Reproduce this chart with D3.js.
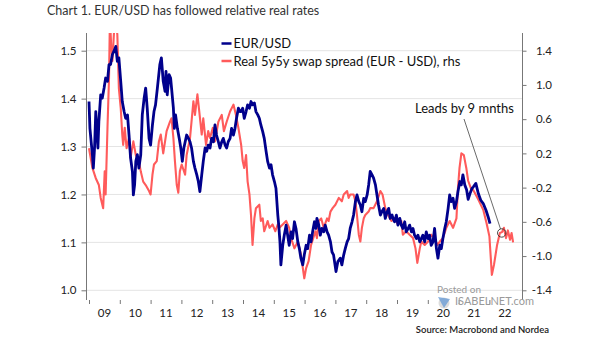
<!DOCTYPE html>
<html>
<head>
<meta charset="utf-8">
<script src="https://cdn.jsdelivr.net/npm/d3@7"></script>
<style>
	body { margin: 0; background: #fff; }
	svg { display: block; font-family: Lato, 'Open Sans', sans-serif; }
</style>
</head>
<body>
<svg id="chart" width="605" height="341"></svg>
<script>
// EUR/USD, left axis  [decimal year, rate]
const eurUsd = [
	[2009.00,1.394],[2009.03,1.338],[2009.06,1.317],[2009.11,1.283],[2009.14,1.255],[2009.18,1.297],[2009.22,1.373],[2009.25,1.338],
	[2009.29,1.297],[2009.32,1.352],[2009.38,1.408],[2009.43,1.401],[2009.49,1.422],[2009.54,1.443],[2009.60,1.436],[2009.65,1.471],
	[2009.70,1.471],[2009.76,1.492],[2009.81,1.499],[2009.87,1.509],[2009.92,1.478],[2009.97,1.485],[2010.03,1.436],[2010.08,1.394],
	[2010.14,1.373],[2010.19,1.359],[2010.25,1.366],[2010.30,1.324],[2010.35,1.276],[2010.41,1.248],[2010.44,1.199],[2010.48,1.220],
	[2010.52,1.269],[2010.57,1.283],[2010.62,1.255],[2010.68,1.283],[2010.73,1.366],[2010.79,1.401],[2010.84,1.422],[2010.89,1.380],
	[2010.95,1.317],[2011.00,1.303],[2011.06,1.345],[2011.11,1.373],[2011.16,1.387],[2011.22,1.422],[2011.30,1.471],[2011.35,1.485],
	[2011.41,1.436],[2011.47,1.415],[2011.50,1.457],[2011.54,1.408],[2011.60,1.450],[2011.65,1.443],[2011.69,1.415],[2011.74,1.380],
	[2011.77,1.338],[2011.81,1.366],[2011.87,1.338],[2011.93,1.317],[2011.98,1.297],[2012.03,1.269],[2012.08,1.297],[2012.17,1.324],
	[2012.23,1.317],[2012.28,1.310],[2012.33,1.297],[2012.39,1.269],[2012.44,1.255],[2012.50,1.241],[2012.55,1.227],[2012.60,1.206],
	[2012.66,1.241],[2012.71,1.269],[2012.77,1.297],[2012.82,1.290],[2012.87,1.303],[2012.93,1.297],[2012.98,1.317],[2013.04,1.310],
	[2013.09,1.345],[2013.14,1.324],[2013.20,1.310],[2013.25,1.297],[2013.31,1.310],[2013.36,1.317],[2013.42,1.303],[2013.47,1.297],
	[2013.52,1.310],[2013.58,1.317],[2013.63,1.338],[2013.69,1.324],[2013.74,1.338],[2013.79,1.359],[2013.85,1.380],[2013.90,1.373],
	[2013.94,1.373],[2013.99,1.380],[2014.04,1.359],[2014.10,1.373],[2014.15,1.387],[2014.21,1.380],[2014.26,1.394],[2014.31,1.387],
	[2014.37,1.391],[2014.42,1.373],[2014.48,1.366],[2014.53,1.359],[2014.58,1.345],[2014.64,1.331],[2014.69,1.317],[2014.75,1.290],
	[2014.80,1.269],[2014.86,1.255],[2014.91,1.262],[2014.96,1.241],[2015.02,1.227],[2015.07,1.213],[2015.13,1.157],[2015.16,1.136],
	[2015.20,1.101],[2015.23,1.053],[2015.29,1.094],[2015.34,1.115],[2015.40,1.136],[2015.45,1.115],[2015.50,1.094],[2015.56,1.122],
	[2015.61,1.108],[2015.67,1.143],[2015.72,1.129],[2015.78,1.101],[2015.83,1.087],[2015.88,1.067],[2015.94,1.053],[2015.99,1.074],
	[2016.05,1.094],[2016.10,1.087],[2016.16,1.115],[2016.21,1.101],[2016.26,1.122],[2016.32,1.143],[2016.37,1.129],[2016.40,1.150],
	[2016.46,1.136],[2016.51,1.115],[2016.56,1.129],[2016.62,1.122],[2016.67,1.136],[2016.73,1.122],[2016.78,1.115],[2016.84,1.101],
	[2016.89,1.080],[2016.94,1.074],[2017.02,1.039],[2017.08,1.060],[2017.16,1.067],[2017.21,1.053],[2017.27,1.074],[2017.32,1.087],
	[2017.38,1.101],[2017.43,1.108],[2017.48,1.129],[2017.54,1.143],[2017.59,1.157],[2017.65,1.185],[2017.70,1.199],[2017.76,1.185],
	[2017.81,1.178],[2017.86,1.164],[2017.92,1.192],[2017.97,1.185],[2018.03,1.199],[2018.08,1.220],[2018.13,1.248],[2018.19,1.241],
	[2018.24,1.234],[2018.30,1.220],[2018.35,1.199],[2018.40,1.178],[2018.46,1.157],[2018.51,1.164],[2018.57,1.171],[2018.62,1.150],
	[2018.68,1.164],[2018.73,1.171],[2018.78,1.150],[2018.84,1.157],[2018.87,1.150],[2018.92,1.143],[2018.98,1.157],[2019.03,1.136],
	[2019.09,1.150],[2019.14,1.136],[2019.19,1.129],[2019.25,1.143],[2019.30,1.122],[2019.36,1.129],[2019.41,1.136],[2019.47,1.122],
	[2019.52,1.129],[2019.57,1.115],[2019.63,1.108],[2019.68,1.115],[2019.74,1.101],[2019.79,1.108],[2019.84,1.115],[2019.90,1.101],
	[2019.95,1.122],[2020.01,1.108],[2020.06,1.115],[2020.11,1.094],[2020.17,1.101],[2020.22,1.129],[2020.28,1.087],[2020.33,1.067],
	[2020.39,1.094],[2020.44,1.087],[2020.49,1.108],[2020.55,1.129],[2020.60,1.143],[2020.66,1.171],[2020.71,1.199],[2020.76,1.185],
	[2020.82,1.192],[2020.87,1.171],[2020.93,1.185],[2020.98,1.206],[2021.04,1.227],[2021.09,1.220],[2021.14,1.241],[2021.20,1.220],
	[2021.26,1.210],[2021.31,1.190],[2021.37,1.202],[2021.43,1.212],[2021.48,1.216],[2021.56,1.223],[2021.64,1.202],[2021.72,1.188],
	[2021.80,1.181],[2021.89,1.167],[2021.96,1.153],[2022.02,1.139]
];

// real 5y5y swap spread (EUR - USD), right axis, shifted 9 months
const swapSpread = [
	[2009.00,0.26],[2009.11,0.03],[2009.22,-0.09],[2009.32,-0.17],[2009.38,-0.32],[2009.46,-0.44],[2009.51,-0.01],[2009.54,-0.28],
	[2009.60,0.50],[2009.65,1.08],[2009.68,1.80],[2009.72,1.45],[2009.76,1.28],[2009.84,1.80],[2009.92,1.59],[2009.97,0.96],
	[2010.03,0.73],[2010.08,0.42],[2010.11,0.30],[2010.16,0.50],[2010.22,0.26],[2010.30,0.38],[2010.35,0.15],[2010.44,0.34],
	[2010.52,0.18],[2010.62,0.11],[2010.68,-0.01],[2010.76,-0.13],[2010.84,-0.17],[2010.95,-0.24],[2011.00,-0.28],[2011.06,-0.05],
	[2011.11,0.07],[2011.20,0.11],[2011.27,0.34],[2011.33,0.42],[2011.41,0.20],[2011.52,0.46],[2011.63,0.57],[2011.68,0.61],
	[2011.74,0.38],[2011.79,0.11],[2011.85,-0.17],[2011.90,-0.26],[2011.95,-0.01],[2012.01,0.07],[2012.12,-0.05],[2012.17,0.18],
	[2012.28,0.38],[2012.39,0.81],[2012.44,0.65],[2012.52,0.89],[2012.58,0.69],[2012.66,0.42],[2012.71,0.61],[2012.80,0.30],
	[2012.87,0.46],[2012.93,0.38],[2013.02,0.50],[2013.09,0.34],[2013.20,0.57],[2013.31,0.65],[2013.38,0.46],[2013.47,0.57],
	[2013.58,0.69],[2013.69,0.77],[2013.77,0.65],[2013.85,0.50],[2013.94,0.30],[2013.99,0.11],[2014.04,0.03],[2014.10,0.18],
	[2014.15,-0.13],[2014.21,-0.28],[2014.26,-0.52],[2014.31,-0.87],[2014.37,-0.56],[2014.42,-0.44],[2014.53,-0.40],[2014.58,-0.59],
	[2014.64,-0.56],[2014.69,-0.71],[2014.80,-0.59],[2014.86,-0.67],[2014.96,-0.63],[2015.05,-0.71],[2015.13,-0.63],[2015.18,-0.67],
	[2015.29,-0.63],[2015.40,-0.59],[2015.50,-0.67],[2015.56,-0.79],[2015.67,-0.91],[2015.78,-0.83],[2015.88,-0.98],[2015.99,-1.26],
	[2016.05,-1.14],[2016.13,-1.06],[2016.21,-0.87],[2016.28,-0.79],[2016.35,-0.71],[2016.40,-0.79],[2016.46,-0.59],[2016.54,-0.56],
	[2016.62,-0.67],[2016.73,-0.56],[2016.78,-0.59],[2016.84,-0.48],[2016.91,-0.44],[2017.00,-0.40],[2017.11,-0.32],[2017.21,-0.36],
	[2017.27,-0.28],[2017.38,-0.24],[2017.43,-0.32],[2017.48,-0.28],[2017.59,-0.28],[2017.65,-0.36],[2017.70,-0.52],[2017.76,-0.75],
	[2017.81,-0.83],[2017.86,-0.67],[2017.92,-0.56],[2017.97,-0.52],[2018.08,-0.48],[2018.13,-0.44],[2018.24,-0.44],[2018.35,-0.36],
	[2018.46,-0.24],[2018.53,-0.28],[2018.62,-0.44],[2018.71,-0.52],[2018.82,-0.59],[2018.92,-0.56],[2019.03,-0.63],[2019.14,-0.59],
	[2019.19,-0.75],[2019.30,-0.71],[2019.41,-0.75],[2019.52,-0.79],[2019.60,-0.91],[2019.66,-1.08],[2019.74,-0.91],[2019.79,-0.83],
	[2019.90,-0.87],[2020.01,-0.83],[2020.11,-0.75],[2020.22,-0.79],[2020.31,-0.87],[2020.39,-0.83],[2020.49,-0.79],[2020.60,-0.67],
	[2020.71,-0.59],[2020.82,-0.67],[2020.93,-0.56],[2020.98,-0.20],[2021.03,0.03],[2021.09,0.20],[2021.17,0.18],[2021.25,0.03],
	[2021.31,-0.12],[2021.40,-0.21],[2021.48,-0.23],[2021.64,-0.34],[2021.80,-0.46],[2021.91,-0.62],[2022.00,-0.77],[2022.08,-1.22],
	[2022.15,-1.10],[2022.25,-0.87],[2022.34,-0.73],[2022.41,-0.72],[2022.47,-0.67],[2022.54,-0.79],[2022.60,-0.70],[2022.67,-0.81],
	[2022.72,-0.73],[2022.77,-0.84]
];

const years = d3.range(2009, 2023);
const yearLabels = ['09','10','11','12','13','14','15','16','17','18','19','20','21','22'];
const leftTicks = [1.0, 1.1, 1.2, 1.3, 1.4, 1.5];
const rightTicks = [-1.4, -1.0, -0.6, -0.2, 0.2, 0.6, 1.0, 1.4];
const leadPoint = [2022.4, -0.73];

const plot = { left: 86.5, right: 522.5, top: 33, bottom: 299 };

const x = d3.scaleLinear().domain([2009, 2023]).range([89, 520.2]);
const yL = d3.scaleLinear().domain([1.0, 1.5]).range([290.3, 50.7]);
const yR = d3.scaleLinear().domain([-1.4, 1.4]).range([290.3, 50.7]);

const svg = d3.select('#chart');

svg.append('text')
	.attr('x', 47).attr('y', 15)
	.attr('font-size', 12.5).attr('fill', '#333')
	.text('Chart 1. EUR/USD has followed relative real rates');

// gridlines
svg.append('g')
	.selectAll('line')
	.data(leftTicks)
	.join('line')
	.attr('x1', plot.left).attr('x2', plot.right)
	.attr('y1', d => yL(d)).attr('y2', d => yL(d))
	.attr('stroke', '#e4e4e4').attr('stroke-width', 1);

// clip
svg.append('clipPath').attr('id', 'clip')
	.append('rect')
	.attr('x', plot.left).attr('y', plot.top)
	.attr('width', plot.right - plot.left).attr('height', plot.bottom - plot.top);

const lines = svg.append('g').attr('clip-path', 'url(#clip)');

lines.append('path')
	.datum(swapSpread)
	.attr('d', d3.line().x(d => x(d[0])).y(d => yR(d[1])))
	.attr('fill', 'none').attr('stroke', '#ff5b5b')
	.attr('stroke-width', 2.1).attr('stroke-linejoin', 'round');

lines.append('path')
	.datum(eurUsd)
	.attr('d', d3.line().x(d => x(d[0])).y(d => yL(d[1])))
	.attr('fill', 'none').attr('stroke', '#00008c')
	.attr('stroke-width', 2.8).attr('stroke-linejoin', 'round');

// axes
const axisColor = '#777';
const leftAxis = svg.append('g')
	.attr('transform', `translate(${plot.left},0)`)
	.call(d3.axisLeft(yL).tickValues(leftTicks).tickFormat(d3.format('.1f')).tickSize(5).tickPadding(5));
const rightAxis = svg.append('g')
	.attr('transform', `translate(${plot.right},0)`)
	.call(d3.axisRight(yR).tickValues(rightTicks).tickFormat(d => d3.format('.1f')(d).replace('−', '-')).tickSize(4).tickPadding(0));
rightAxis.selectAll('text').attr('text-anchor', 'end').attr('x', 29.5);

const bottomAxis = svg.append('g')
	.attr('transform', `translate(0,${plot.bottom + 1})`)
	.call(d3.axisBottom(x).tickValues(years).tickFormat('').tickSize(4));
bottomAxis.select('.domain').remove();

svg.append('g')
	.selectAll('text')
	.data(years)
	.join('text')
	.attr('x', d => x(d + 0.5)).attr('y', 317)
	.attr('text-anchor', 'middle').attr('font-size', 11.5).attr('fill', '#222')
	.text((d, i) => yearLabels[i]);

[leftAxis, rightAxis].forEach(g => {
	g.select('.domain').attr('stroke', axisColor)
		.attr('d', `M0,${plot.top}V${plot.bottom + 1}`);
	g.selectAll('.tick line').attr('stroke', axisColor);
	g.selectAll('text').attr('font-size', 11.5).attr('fill', '#222').attr('font-family', 'Lato, sans-serif');
});
bottomAxis.selectAll('.tick line').attr('stroke', axisColor);

// legend
const legend = svg.append('g').attr('font-size', 13).attr('fill', '#111');
[['EUR/USD', '#00008c', 43.5], ['Real 5y5y swap spread (EUR - USD), rhs', '#ff5b5b', 61]].forEach(([label, color, ly]) => {
	legend.append('line')
		.attr('x1', 221.5).attr('x2', 231.5).attr('y1', ly).attr('y2', ly)
		.attr('stroke', color).attr('stroke-width', 2.5);
	legend.append('text')
		.attr('x', 233.5).attr('y', ly + 4.5)
		.text(label);
});

// annotation
const cx = x(leadPoint[0]);
const cy = yR(leadPoint[1]);
svg.append('line')
	.attr('x1', 464).attr('y1', 119)
	.attr('x2', cx - 1.2).attr('y2', cy - 4)
	.attr('stroke', '#444').attr('stroke-width', 0.8);
svg.append('circle')
	.attr('cx', cx).attr('cy', cy).attr('r', 4.2)
	.attr('fill', 'none').attr('stroke', '#333').attr('stroke-width', 0.9);
svg.append('text')
	.attr('x', 415).attr('y', 113)
	.attr('font-size', 13).attr('fill', '#111')
	.text('Leads by 9 mnths');

// watermark
const wm = svg.append('g').attr('fill', '#9a9a9a');
wm.append('text').attr('x', 437).attr('y', 292.5).attr('font-size', 10).text('Posted on');
wm.append('circle').attr('cx', 444).attr('cy', 303).attr('r', 5.5).attr('fill', '#dcdcdc');
wm.append('path').attr('d', 'M438,297 L450,299 L444,308 Z').attr('fill', '#6d9ed6').attr('opacity', 0.8);
wm.append('text').attr('x', 455).attr('y', 305).attr('font-size', 11).text('ISABELNET.com');

// source
svg.append('text')
	.attr('x', 549).attr('y', 333)
	.attr('text-anchor', 'end').attr('font-size', 9.5).attr('font-weight', 600).attr('fill', '#222')
	.text('Source: Macrobond and Nordea');
</script>
</body>
</html>
